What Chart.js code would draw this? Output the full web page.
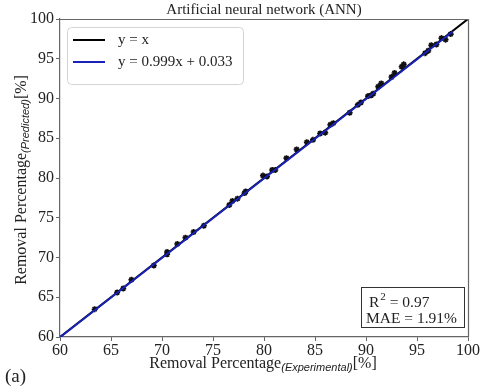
<!DOCTYPE html>
<html><head><meta charset="utf-8">
<script src="https://cdn.jsdelivr.net/npm/chart.js@4/dist/chart.umd.min.js"></script>
<style>html,body{margin:0;padding:0;background:#fff;}#wrap{width:480px;height:387px;}</style>
</head><body><div id="wrap"><canvas id="c" width="480" height="387"></canvas></div>
<script>
const chartTitle = 'Artificial neural network (ANN)';
const axisTicks = [60, 65, 70, 75, 80, 85, 90, 95, 100];
const experimental = [63.4,65.6,66.2,67.0,69.2,70.5,70.5,71.5,72.3,73.1,74.1,76.6,76.9,77.4,78.1,78.2,79.9,80.3,81.1,80.8,82.2,83.2,84.2,84.8,85.5,86.0,86.5,86.8,88.4,89.2,89.5,90.2,90.7,90.5,91.2,91.5,92.5,92.8,93.5,93.7,95.8,96.1,96.4,96.9,97.4,97.8,98.3];
const predicted    = [63.5,65.6,66.1,67.2,69.0,70.4,70.7,71.7,72.5,73.2,74.0,76.6,77.1,77.4,78.1,78.3,80.3,80.2,81.0,81.0,82.5,83.6,84.5,84.8,85.6,85.7,86.7,86.9,88.2,89.2,89.5,90.3,90.6,90.4,91.5,91.9,92.7,93.2,94.0,94.3,95.7,96.0,96.7,96.8,97.6,97.4,98.1];
const identityX = [60, 100];
const fitX = [60, 98.5];
const fitSlope = 0.999, fitIntercept = 0.033;
const legendLabels = ['y = x', 'y = 0.999x + 0.033'];
const statLines = ['= 0.97', 'MAE = 1.91%'];

const BLUE = '#1a22b8';
const SERIF = '"Liberation Serif", "Times New Roman", serif';
const SANS = '"Liberation Sans", Arial, sans-serif';

const pts = experimental.map((x, i) => ({x, y: predicted[i]}));
const idLine = identityX.map(x => ({x, y: x}));
const fitLine = fitX.map(x => ({x, y: fitSlope * x + fitIntercept}));

const deco = {
  id: 'deco',
  afterDraw(chart) {
    const ctx = chart.ctx, a = chart.chartArea;
    ctx.save();
    ctx.strokeStyle = '#666'; ctx.lineWidth = 1.2;
    ctx.beginPath();
    ctx.moveTo(a.left, a.top + 0.5); ctx.lineTo(a.right + 0.5, a.top + 0.5); ctx.lineTo(a.right + 0.5, a.bottom);
    ctx.stroke();
    ctx.fillStyle = '#222';
    ctx.font = '15px ' + SERIF; ctx.textAlign = 'center'; ctx.textBaseline = 'alphabetic';
    ctx.fillText(chartTitle, 264, 14);
    const drawMixed = (parts) => {
      let w = 0;
      parts.forEach(p => { ctx.font = p.f; w += ctx.measureText(p.t).width; });
      let x = -w / 2;
      ctx.textAlign = 'left';
      parts.forEach(p => { ctx.font = p.f; ctx.fillText(p.t, x, p.dy); x += ctx.measureText(p.t).width; });
    };
    const parts = [
      {t: 'Removal Percentage', f: '16px ' + SERIF, dy: 0},
      {t: '(Experimental)', f: 'italic 11px ' + SANS, dy: 3},
      {t: '[%]', f: '16px ' + SERIF, dy: 0}
    ];
    ctx.save(); ctx.translate(263, 368); drawMixed(parts); ctx.restore();
    const partsY = [
      {t: 'Removal Percentage', f: '16px ' + SERIF, dy: 0},
      {t: '(Predicted)', f: 'italic 11px ' + SANS, dy: 3},
      {t: '[%]', f: '16px ' + SERIF, dy: 0}
    ];
    ctx.save(); ctx.translate(26, 180); ctx.rotate(-Math.PI / 2); drawMixed(partsY); ctx.restore();
    ctx.font = '19px ' + SERIF; ctx.textAlign = 'left';
    ctx.fillText('(a)', 5, 382);
    const lx = 67, ly = 27, lw = 176, lh = 57, r = 4;
    ctx.fillStyle = 'rgba(255,255,255,0.9)';
    ctx.strokeStyle = '#d4d4d4'; ctx.lineWidth = 1;
    ctx.beginPath();
    ctx.roundRect(lx + 0.5, ly + 0.5, lw, lh, r);
    ctx.fill(); ctx.stroke();
    const cols = ['#000', BLUE];
    [40, 62].forEach((yy, i) => {
      ctx.strokeStyle = cols[i]; ctx.lineWidth = 2;
      ctx.beginPath(); ctx.moveTo(73, yy); ctx.lineTo(105, yy); ctx.stroke();
      ctx.fillStyle = '#222'; ctx.font = '15px ' + SERIF; ctx.textBaseline = 'middle';
      ctx.fillText(legendLabels[i], 118, yy);
    });
    ctx.textBaseline = 'alphabetic';
    ctx.strokeStyle = '#333'; ctx.lineWidth = 1;
    ctx.strokeRect(361.5, 287.5, 103, 40);
    ctx.fillStyle = '#222';
    ctx.font = '15.5px ' + SERIF;
    ctx.fillText('R', 369, 307);
    const rw = ctx.measureText('R').width;
    ctx.font = '11px ' + SERIF;
    ctx.fillText('2', 369 + rw + 1, 300);
    const sw = ctx.measureText('2').width;
    ctx.font = '15.5px ' + SERIF;
    ctx.fillText(' ' + statLines[0], 369 + rw + 1 + sw, 307);
    ctx.fillText(statLines[1], 366, 323);
    ctx.restore();
  }
};

new Chart(document.getElementById('c'), {
  type: 'scatter',
  data: {
    datasets: [
      {label: 'y = x', data: idLine, showLine: true, borderColor: '#000', borderWidth: 2, pointRadius: 0, order: 2},
      {label: 'fit', data: fitLine, showLine: true, borderColor: BLUE, borderWidth: 2, pointRadius: 0, order: 1},
      {label: 'data', data: pts, pointStyle: 'star', pointRadius: 3, borderColor: '#111', backgroundColor: '#111', borderWidth: 1.6, order: 3}
    ]
  },
  options: {
    responsive: false, animation: false,
    layout: {padding: {top: 19, right: 12, left: 0, bottom: 0}},
    plugins: {legend: {display: false}, tooltip: {enabled: false}, title: {display: false}},
    scales: {
      x: {
        type: 'linear', min: 60, max: 100,
        afterFit(s) { s.height = 50; },
        afterBuildTicks(s) { s.ticks = axisTicks.map(v => ({value: v})); },
        grid: {drawOnChartArea: false, drawTicks: true, tickLength: 4, color: '#666'},
        border: {display: true, color: '#666', width: 1.2},
        ticks: {font: {family: SERIF, size: 16}, color: '#222', padding: 0, maxRotation: 0}
      },
      y: {
        type: 'linear', min: 60, max: 100,
        afterFit(s) { s.width = 60; },
        afterBuildTicks(s) { s.ticks = axisTicks.map(v => ({value: v})); },
        grid: {drawOnChartArea: false, drawTicks: true, tickLength: 4, color: '#666'},
        border: {display: true, color: '#666', width: 1.2},
        ticks: {font: {family: SERIF, size: 16}, color: '#222', padding: 2}
      }
    }
  },
  plugins: [deco]
});
</script></body></html>
